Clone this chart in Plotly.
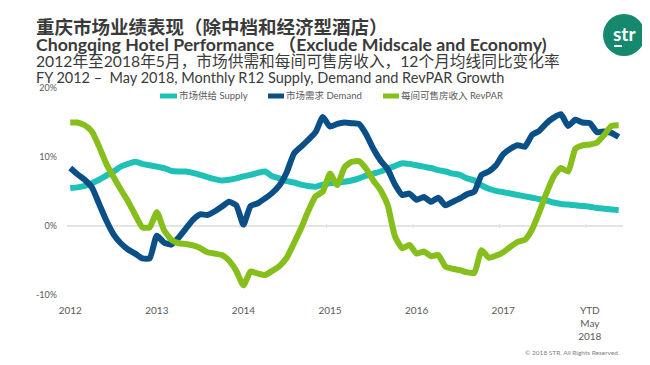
import plotly.graph_objects as go

# ---------------- data ----------------
months = list(range(77))  # Jan 2012 .. May 2018 (monthly, R12)

supply = [5.5, 5.6, 5.8, 6.2, 6.7, 7.3, 7.9, 8.6, 9.0, 9.3, 9.0, 8.8,
          8.6, 8.4, 8.0, 7.9, 7.9, 7.7, 7.4, 7.1, 6.8, 6.6, 6.7, 6.9,
          7.2, 7.4, 7.7, 7.9, 7.2, 6.9, 6.5, 6.3, 6.0, 5.8, 5.7, 6.0,
          6.2, 6.3, 6.4, 6.6, 6.9, 7.3, 7.6, 7.9, 8.3, 8.7, 9.1, 9.0,
          8.8, 8.6, 8.4, 8.1, 7.9, 7.6, 7.4, 6.9, 6.6, 5.9, 5.4, 5.1,
          4.9, 4.7, 4.5, 4.3, 4.1, 3.9, 3.7, 3.4, 3.2, 3.1, 3.0, 2.9,
          2.8, 2.6, 2.5, 2.4, 2.3]

demand = [8.4, 7.5, 6.7, 5.6, 3.2, 0.8, -1.2, -2.5, -3.4, -4.0, -4.7, -4.7,
          -1.4, -2.4, -2.7, -1.7, -0.4, 0.9, 1.7, 1.6, 2.1, 2.8, 3.5, 3.0,
          0.2, 2.9, 3.3, 4.0, 4.8, 5.9, 7.8, 10.5, 11.5, 12.5, 13.6, 15.8,
          14.4, 14.8, 15.0, 14.9, 14.8, 13.3, 11.2, 9.5, 8.2, 6.0, 4.5, 4.7,
          3.8, 4.2, 3.5, 4.1, 3.0, 3.5, 4.0, 4.6, 5.0, 7.4, 7.9, 8.8,
          10.4, 11.2, 11.7, 11.5, 13.2, 13.8, 14.9, 15.7, 16.2, 14.5, 15.4, 15.0,
          14.9, 13.6, 13.7, 13.5, 12.9]

revpar = [15.0, 15.0, 14.6, 13.7, 11.5, 9.0, 7.1, 5.3, 3.6, 1.6, -0.2, -0.2,
          2.0, -0.6, -2.0, -2.5, -2.6, -2.8, -3.2, -3.8, -4.0, -4.2, -5.0, -6.5,
          -8.6, -6.6, -6.9, -7.1, -6.5, -5.8, -4.6, -2.5, -0.3, 2.2, 4.3, 5.0,
          7.6, 5.9, 8.5, 9.3, 9.4, 8.3, 6.6, 5.2, 3.0, -1.5, -3.2, -2.75,
          -4.0, -3.7, -4.4, -4.2, -5.9, -6.2, -6.4, -6.7, -6.8, -3.5, -4.6, -4.3,
          -3.8, -3.0, -2.3, -2.0, -0.5, 2.0, 4.8, 7.2, 8.4, 7.9, 11.2, 11.7,
          11.8, 12.1, 13.2, 14.5, 14.6]

series_names = ["市场供给 Supply", "市场需求 Demand", "每间可售房收入 RevPAR"]
series_colors = ["#1FC0B6", "#0B4F87", "#86BE1C"]

x_tick_vals = [0, 12, 24, 36, 48, 60, 72]
x_tick_text = ["2012", "2013", "2014", "2015", "2016", "2017", "YTD<br>May<br>2018"]
y_tick_vals = [-10, 0, 10, 20]
y_tick_text = ["-10%", "0%", "10%", "20%"]

title_cn = "<b>重庆市场业绩表现（除中档和经济型酒店）</b>"
title_en = "<b>Chongqing Hotel Performance （Exclude Midscale and Economy)</b>"
sub_cn = "2012年至2018年5月，市场供需和每间可售房收入，12个月均线同比变化率"
sub_en = "FY 2012 –\u00a0\u00a0May 2018, Monthly R12 Supply, Demand and RevPAR Growth"
copyright_text = "© 2018 STR. All Rights Reserved."

# ---------------- layout geometry (window pixels) ----------------
WIN_W, WIN_H = 650, 365
BODY = 8                      # default page body margin
W, H = WIN_W - BODY, WIN_H - BODY
PL, PR, PT, PB = 67, 623, 88, 295

def pxx(x):
    return (x - PL) / (PR - PL)

def pxy(y):
    return (PB - y) / (PB - PT)

LATIN = "Lato, 'Noto Sans CJK SC', sans-serif"
GRAY = "#595959"
DARK = "#3A3A3A"

fig = go.Figure()
for vals, name, col in zip([supply, demand, revpar], series_names, series_colors):
    fig.add_trace(go.Scatter(
        x=months, y=vals, mode="lines", name=name,
        line=dict(color=col, width=6, shape="spline", smoothing=0.5),
        showlegend=False, hoverinfo="skip"))

shapes = []
annotations = []

# small tick marks on the zero line between years
for t in x_tick_vals[1:]:
    shapes.append(dict(type="line", xref="x", yref="paper",
                       x0=t - 0.5, x1=t - 0.5, y0=pxy(228), y1=pxy(224),
                       line=dict(color="#D9D9D9", width=1), layer="below"))

# manual legend
leg_y = pxy(96)
legend_items = [(160, 177, 178), (268, 284, 285), (383, 399, 400)]
for (sx0, sx1, tx), name, col in zip(legend_items, series_names, series_colors):
    shapes.append(dict(type="line", xref="paper", yref="paper",
                       x0=pxx(sx0), x1=pxx(sx1), y0=leg_y, y1=leg_y,
                       line=dict(color=col, width=5)))
    annotations.append(dict(xref="paper", yref="paper", x=pxx(tx), y=leg_y,
                            text=name, showarrow=False, xanchor="left", yanchor="middle",
                            borderpad=0,
                            font=dict(family=LATIN, size=9.5, color=GRAY)))

# titles
annotations += [
    dict(xref="paper", yref="paper", x=pxx(35), y=pxy(25.5), text=title_cn, showarrow=False,
         xanchor="left", yanchor="middle", borderpad=0,
         font=dict(family="'Noto Sans CJK SC', sans-serif", size=18.5, color=DARK)),
    dict(xref="paper", yref="paper", x=pxx(35), y=pxy(44.5), text=title_en, showarrow=False,
         xanchor="left", yanchor="middle", borderpad=0,
         font=dict(family=LATIN, size=17.7, color=DARK)),
    dict(xref="paper", yref="paper", x=pxx(35), y=pxy(60.5), text=sub_cn, showarrow=False,
         xanchor="left", yanchor="middle", borderpad=0,
         font=dict(family=LATIN, size=15.7, color=DARK)),
    dict(xref="paper", yref="paper", x=pxx(35), y=pxy(77.5), text=sub_en, showarrow=False,
         xanchor="left", yanchor="middle", borderpad=0,
         font=dict(family=LATIN, size=14.5, color=DARK)),
    dict(xref="paper", yref="paper", x=pxx(621), y=pxy(352), text=copyright_text, showarrow=False,
         xanchor="right", yanchor="middle", borderpad=0,
         font=dict(family=LATIN, size=6.5, color="#7F7F7F")),
]

# logo
shapes.append(dict(type="circle", xref="paper", yref="paper",
                   x0=pxx(603), x1=pxx(645), y0=pxy(14), y1=pxy(56),
                   fillcolor="#15896E", line=dict(width=0)))
annotations.append(dict(xref="paper", yref="paper", x=pxx(624), y=pxy(34),
                        text="<b>str</b>", showarrow=False, xanchor="center", yanchor="middle",
                        font=dict(family="Lato, sans-serif", size=19, color="white")))
shapes.append(dict(type="line", xref="paper", yref="paper",
                   x0=pxx(614), x1=pxx(622), y0=pxy(46), y1=pxy(46),
                   line=dict(color="white", width=2)))

fig.update_layout(
    width=W, height=H,
    margin=dict(l=PL - BODY, r=WIN_W - PR, t=PT - BODY, b=WIN_H - PB),
    paper_bgcolor="white", plot_bgcolor="white",
    showlegend=False,
    shapes=shapes, annotations=annotations,
    xaxis=dict(range=[-0.45, 76.6], tickvals=x_tick_vals, ticktext=x_tick_text,
               showgrid=False, zeroline=False, showline=False, ticks="",
               ticklabelstandoff=8,
               tickfont=dict(family=LATIN, size=10, color=GRAY), fixedrange=True),
    yaxis=dict(range=[-10, 20], tickvals=y_tick_vals, ticktext=y_tick_text,
               showgrid=False, zeroline=True, zerolinecolor="#E4E4E4", zerolinewidth=1.5,
               showline=False, ticks="", ticklabelstandoff=9,
               tickfont=dict(family=LATIN, size=9, color=GRAY), fixedrange=True),
)

fig.write_html("out.html")
